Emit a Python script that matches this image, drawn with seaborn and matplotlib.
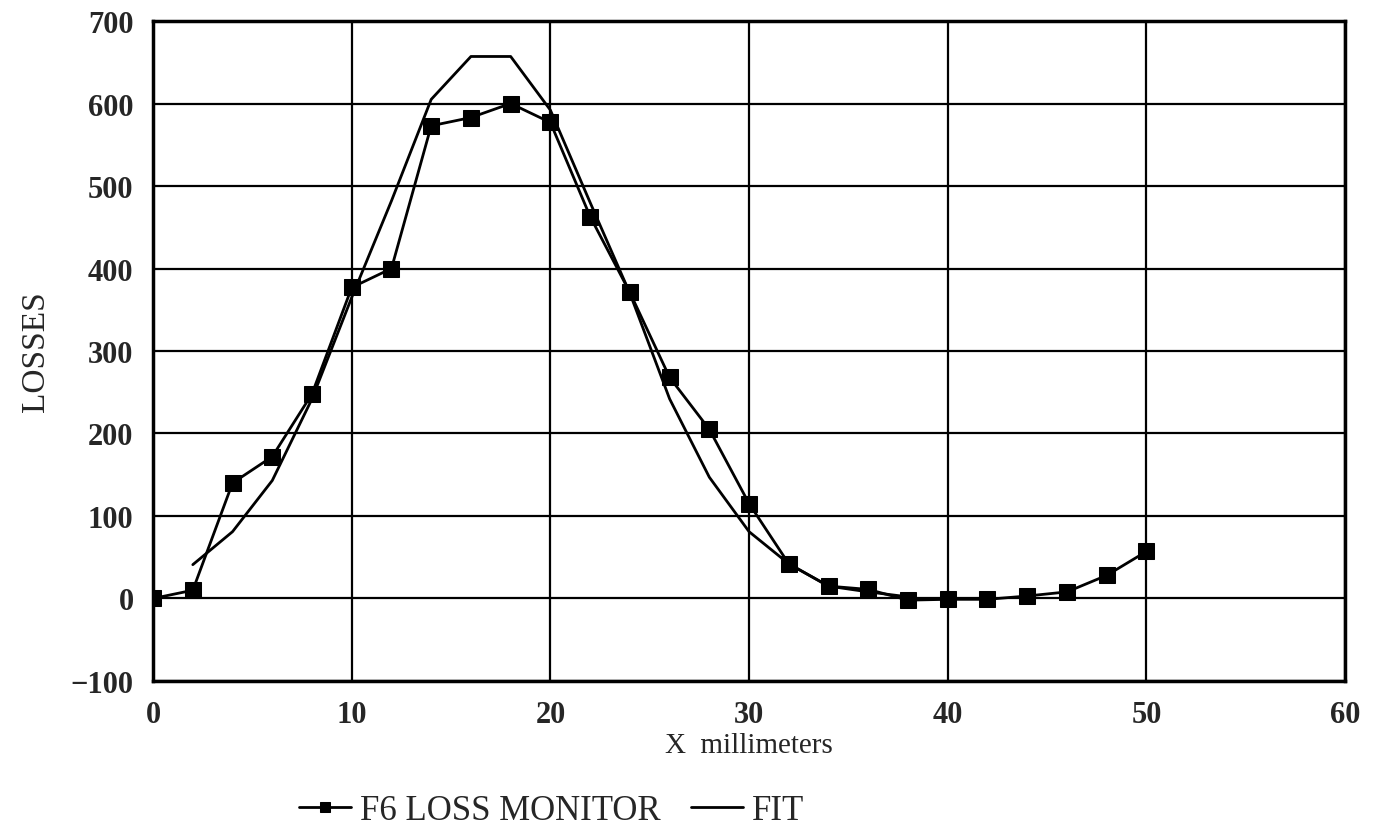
import numpy as np
import pandas as pd
import matplotlib.pyplot as plt
import seaborn as sns

# ---------------------------
# Data
# ---------------------------

x_monitor = [0, 2, 4, 6, 8, 10, 12, 14, 16, 18, 20, 22, 24,
             26, 28, 30, 32, 34, 36, 38, 40, 42, 44, 46, 48, 50]
losses_monitor = [0, 10, 140, 172, 248, 377, 400, 573, 583, 600, 577, 463, 371,
                  268, 205, 115, 42, 15, 11, -2, -1, -1, 3, 8, 28, 57]

x_fit = [2, 4, 6, 8, 10, 12, 14, 16, 18, 20, 22, 24, 26, 28, 30, 32, 34, 36, 38]
losses_fit = [41, 81, 143, 242, 365, 482, 605, 657, 657, 592, 480, 370, 242,
              147, 81, 42, 15, 8, 2]

x_ticks = [0, 10, 20, 30, 40, 50, 60]
y_ticks = [-100, 0, 100, 200, 300, 400, 500, 600, 700]

df_mon = pd.DataFrame({"x": x_monitor, "losses": losses_monitor})
df_fit = pd.DataFrame({"x": x_fit, "losses": losses_fit})

# ---------------------------
# Style
# ---------------------------

sns.set_style("white")
plt.rcParams["font.family"] = ["Liberation Serif", "DejaVu Serif"]

fig = plt.figure(figsize=(13.79, 8.37), dpi=100)
ax = fig.add_axes([0.111, 0.1852, 0.8644, 0.7885])

sns.lineplot(
    data=df_mon, x="x", y="losses", ax=ax,
    color="black", linewidth=2, marker="s", markersize=11,
    markeredgecolor="black", label="F6 LOSS MONITOR"
)
sns.lineplot(
    data=df_fit, x="x", y="losses", ax=ax,
    color="black", linewidth=2, label="FIT"
)

ax.set_xlim(0, 60)
ax.set_ylim(-100, 700)
ax.set_xticks(x_ticks)
ax.set_yticks(y_ticks)
ax.set_yticklabels(["\u2212100"] + [str(v) for v in y_ticks[1:]])
ax.grid(True, color="black", linewidth=1.6)
ax.set_axisbelow(True)
for side in ["left", "right", "top", "bottom"]:
    ax.spines[side].set_color("black")
    ax.spines[side].set_linewidth(2.5)

ax.tick_params(axis="both", length=0, labelsize=22, pad=14)
for lab in ax.get_xticklabels() + ax.get_yticklabels():
    lab.set_fontweight("bold")

ax.set_xlabel("X  millimeters", fontsize=21, labelpad=2)
ax.set_ylabel("LOSSES", fontsize=24, labelpad=14)

ax.legend(
    loc="center", bbox_to_anchor=(0.40, 0.030),
    bbox_transform=fig.transFigure, ncol=2, frameon=False,
    fontsize=25, handlelength=1.5, handletextpad=0.25,
    columnspacing=0.9, markerscale=0.6, borderpad=0
)

plt.savefig("out.png", dpi=100)
plt.close()
